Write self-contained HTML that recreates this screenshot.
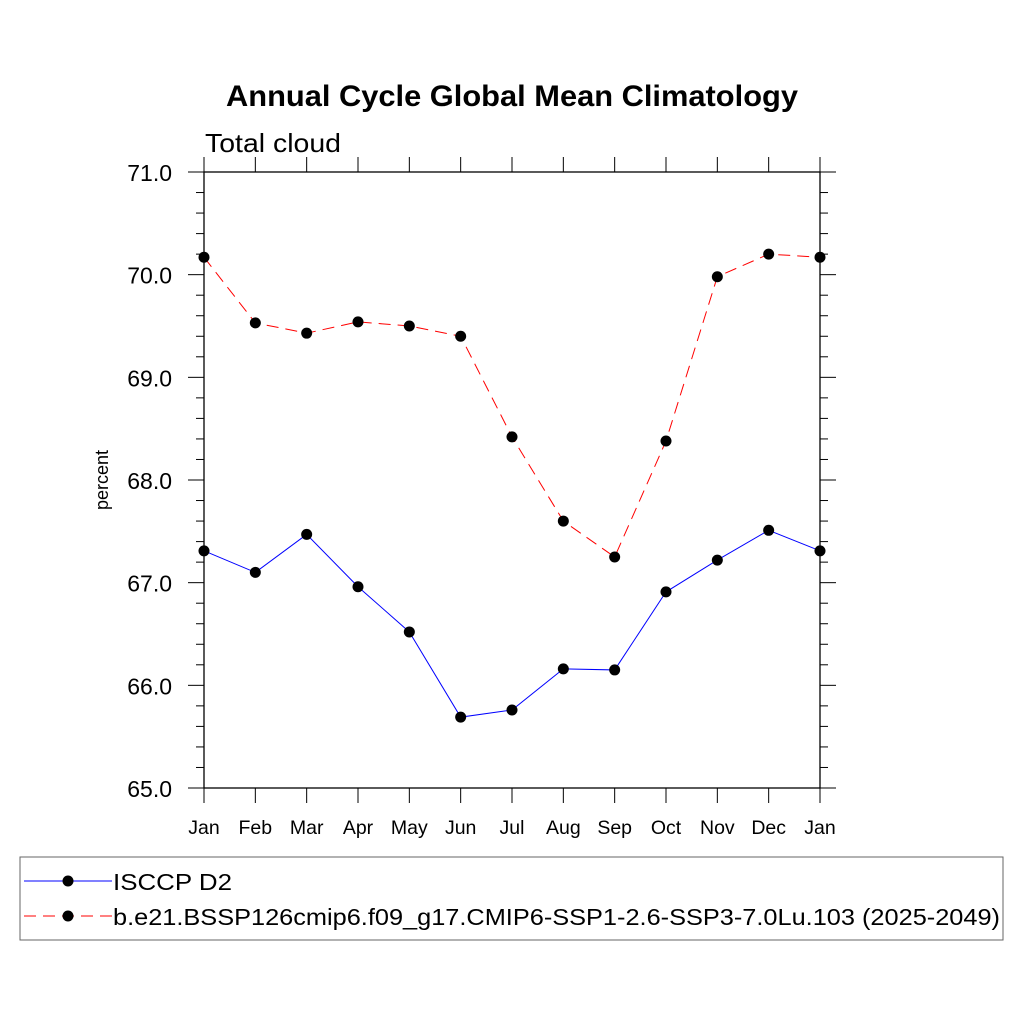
<!DOCTYPE html>
<html><head><meta charset="utf-8"><style>body{margin:0;background:#fff}svg text{font-family:"Liberation Sans",sans-serif}</style></head>
<body>
<svg id="c" width="1024" height="1024">
<text x="226" y="106" textLength="572" lengthAdjust="spacingAndGlyphs" font-size="30" font-weight="bold">Annual Cycle Global Mean Climatology</text>
<text x="205" y="152" textLength="136" lengthAdjust="spacingAndGlyphs" font-size="26">Total cloud</text>
<text transform="translate(108,480) rotate(-90)" text-anchor="middle" font-size="18">percent</text>
<g id="g"></g>
<rect x="20" y="857" width="983" height="83" fill="none" stroke="#666" stroke-width="1"/>
<g>
<line x1="24" y1="881" x2="112" y2="881" stroke="#00f" stroke-width="1"/><circle cx="68" cy="881" r="5.5" fill="#000"/>
<text x="113" y="890" textLength="119" lengthAdjust="spacingAndGlyphs" font-size="23">ISCCP D2</text></g>
<g>
<line x1="24" y1="916" x2="112" y2="916" stroke="#f00" stroke-width="1" stroke-dasharray="12,7"/><circle cx="68" cy="916" r="5.5" fill="#000"/>
<text x="113" y="925" textLength="887" lengthAdjust="spacingAndGlyphs" font-size="23">b.e21.BSSP126cmip6.f09_g17.CMIP6-SSP1-2.6-SSP3-7.0Lu.103 (2025-2049)</text></g>
</svg>
<script>
const months=["Jan","Feb","Mar","Apr","May","Jun","Jul","Aug","Sep","Oct","Nov","Dec","Jan"];
const isccp=[67.31,67.10,67.47,66.96,66.52,65.69,65.76,66.16,66.15,66.91,67.22,67.51,67.31];
const model=[70.17,69.53,69.43,69.54,69.50,69.40,68.42,67.60,67.25,68.38,69.98,70.20,70.17];
const yTicks=[65,66,67,68,69,70,71];
const L=204,R=820,T=172,B=788,yMin=65,yMax=71;
const xs=i=>L+(R-L)*i/(months.length-1);
const ys=v=>B-(v-yMin)/(yMax-yMin)*(B-T);
const g=document.getElementById('g');const NS="http://www.w3.org/2000/svg";
function el(t,a,p){const e=document.createElementNS(NS,t);for(const k in a)e.setAttribute(k,a[k]);(p||g).appendChild(e);return e;}
const f=el('rect',{x:L,y:T,width:R-L,height:B-T,fill:'none',stroke:'#000','stroke-width':1.3});


for(let v=yMin;v<=yMax+1e-9;v+=0.2){const maj=Math.abs(v-Math.round(v))<1e-6,len=maj?16:8,y=ys(v);
el('line',{x1:L-len,x2:L,y1:y,y2:y,stroke:'#000','stroke-width':1});el('line',{x1:R,x2:R+len,y1:y,y2:y,stroke:'#000','stroke-width':1});}
yTicks.forEach(v=>{const t=el('text',{x:172,y:ys(v)+9,'text-anchor':'end','font-size':23});t.textContent=v.toFixed(1);

});
months.forEach((m,i)=>{const x=xs(i);el('line',{x1:x,x2:x,y1:T-15,y2:T,stroke:'#000','stroke-width':1});el('line',{x1:x,x2:x,y1:B,y2:B+15,stroke:'#000','stroke-width':1});
const t=el('text',{x:x,y:834,'text-anchor':'middle','font-size':19.5});t.textContent=m;

});
function series(d,color,dash,name){const p=el('polyline',{points:d.map((v,i)=>xs(i)+','+ys(v)).join(' '),fill:'none',stroke:color,'stroke-width':1,'stroke-dasharray':dash});


d.forEach((v,i)=>{const c=el('circle',{cx:xs(i),cy:ys(v),r:5.5,fill:'#000'});

});}
series(isccp,'#00f','none','isccp');
series(model,'#f00','12,7','model');
</script>
</body></html>
